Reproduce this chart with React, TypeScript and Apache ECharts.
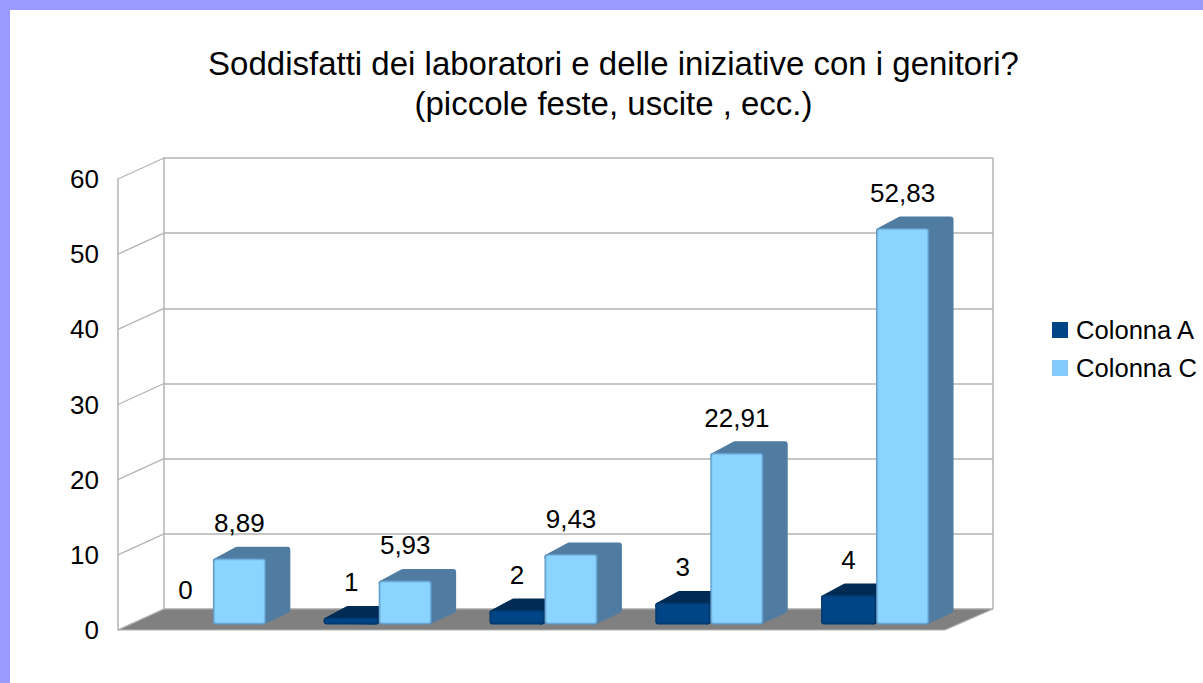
import React, { useEffect, useRef } from "react";
import * as echarts from "echarts";

const titleLines = ["Soddisfatti dei laboratori e delle iniziative con i genitori?", "(piccole feste, uscite , ecc.)"];
const categories = ["1", "2", "3", "4", "5"];
const seriesNames = ["Colonna A", "Colonna C"];
const colonnaA = [0, 1, 2, 3, 4];
const colonnaC = [8.89, 5.93, 9.43, 22.91, 52.83];
const labelsA = ["0", "1", "2", "3", "4"];
const labelsC = ["8,89", "5,93", "9,43", "22,91", "52,83"];
const ticks = [0, 10, 20, 30, 40, 50, 60];

const FONT = "'Liberation Sans', Arial, sans-serif";
const GRID = "#b3b3b3";

const faces = [
  { front: "#8ad4ff", edge: "#5f97c4", mid: "#76b8e6", dark: "#4f7ca0", legend: "#83caff" },
  { front: "#004586", edge: "#00386c", mid: "#003f7a", dark: "#002b54", legend: "#004586" },
];

function barRenderer(values: number[], labels: string[], side: number, look: any) {
  return (params: any, api: any) => {
    const i = params.dataIndex;
    const v = values[i];
    const c = api.coord([i, v]);
    const z = api.coord([i, 0]);
    const band = api.size([1, 0])[0];
    const w = band * (side < 0 ? 0.332 : 0.32);
    const x0 = side < 0 ? c[0] - w : c[0];
    const x1 = x0 + w;
    const top = c[1] - 1;
    const base = z[1] - 1.5;
    const dx = band * 0.147;
    const dy = 11.5;
    const children: any[] = [];
    if (base - top > 1.5) {
      const h = base - top;
      const inset = Math.min(3, h / 2);
      children.push({
        type: "polygon",
        shape: {
          points: [
            [x0 + inset, top + inset],
            [x0 + dx, top - dy + inset],
            [x1 + dx - inset, top - dy + inset],
            [x1 + dx - inset, base - dy - inset],
            [x1 - inset, base - inset],
          ],
        },
        style: { fill: look.dark, stroke: look.dark, lineWidth: inset * 2, lineJoin: "round" },
      });
      [
        [0, look.edge, 3],
        [1, look.mid, 2.5],
        [2, look.front, 1.5],
      ].forEach(([d, fill, r]: any) => {
        if (h - 2 * d > 0.5) {
          children.push({
            type: "rect",
            shape: { x: x0 + d, y: top + d, width: w - 2 * d, height: h - 2 * d, r },
            style: { fill },
          });
        }
      });
    }
    children.push({
      type: "text",
      style: {
        text: labels[i],
        x: (x0 + x1) / 2,
        y: c[1] - 36,
        fill: "#000",
        font: "26px " + FONT,
        align: "center",
        verticalAlign: "middle",
      },
    });
    return { type: "group", children };
  };
}

export default function App() {
  const ref = useRef<HTMLDivElement>(null);
  useEffect(() => {
    const chart = echarts.init(ref.current!, null, { renderer: "svg" });
    const hiddenX = (gridIndex: number) => ({
      type: "category" as const,
      gridIndex,
      data: categories,
      show: false,
    });
    const yAxisBase = { type: "value" as const, min: 0, max: 60, interval: 10 };
    chart.setOption({
      animation: false,
      backgroundColor: "#ffffff",
      color: [faces[1].legend, faces[0].legend],
      title: {
        text: titleLines.join("\n"),
        left: 608.5,
        top: 38,
        textAlign: "center",
        textStyle: { fontFamily: FONT, fontWeight: "normal", fontSize: 33, lineHeight: 40, color: "#000" },
      },
      legend: {
        data: seriesNames,
        orient: "vertical",
        left: 1052,
        top: 317,
        padding: 0,
        itemWidth: 16,
        itemHeight: 16,
        itemGap: 12,
        icon: "rect",
        textStyle: { fontFamily: FONT, fontSize: 25.6, color: "#000", padding: [0, 0, 0, 3] },
      },
      graphic: [
        { type: "rect", shape: { x: 0, y: 0, width: 1203, height: 10 }, style: { fill: "#9999ff" } },
        { type: "rect", shape: { x: 0, y: 0, width: 10, height: 683 }, style: { fill: "#9999ff" } },
      ],
      grid: [
        { left: 164, top: 158, width: 829, height: 451 },
        { left: 118, top: 179, width: 46, height: 451 },
        { left: 130, top: 175, width: 829, height: 451 },
      ],
      xAxis: [hiddenX(0), hiddenX(1), hiddenX(2)],
      yAxis: [
        {
          ...yAxisBase,
          gridIndex: 0,
          axisLabel: { show: false },
          axisTick: { show: false },
          axisLine: { show: true, lineStyle: { color: GRID, width: 1.5 } },
          splitLine: { show: true, lineStyle: { color: GRID, width: 1.5 } },
        },
        {
          ...yAxisBase,
          gridIndex: 1,
          axisLabel: { show: true, margin: 19, fontFamily: FONT, fontSize: 26, color: "#000" },
          axisTick: { show: false },
          axisLine: { show: true, lineStyle: { color: GRID, width: 1.5 } },
          splitLine: { show: false },
        },
        { ...yAxisBase, gridIndex: 2, show: false },
      ],
      series: [
        {
          type: "custom",
          name: "frame",
          xAxisIndex: 0,
          yAxisIndex: 0,
          silent: true,
          z: 1,
          data: ticks,
          renderItem: (params: any, api: any) => {
            const t = ticks[params.dataIndex];
            const p = api.coord([0, t]);
            const left = params.coordSys.x;
            const right = left + params.coordSys.width;
            const children: any[] = [
              {
                type: "line",
                shape: { x1: left - 46, y1: p[1] + 21, x2: left, y2: p[1] },
                style: { stroke: GRID, lineWidth: 1.2 },
              },
            ];
            if (t === 0) {
              children.push({
                type: "polygon",
                shape: {
                  points: [
                    [left - 46, p[1] + 21],
                    [left, p[1]],
                    [right, p[1]],
                    [right - 48, p[1] + 21],
                  ],
                },
                style: { fill: "#808080", stroke: GRID, lineWidth: 1.2 },
              });
            }
            if (t === 60) {
              children.push({
                type: "line",
                shape: { x1: right, y1: p[1], x2: right, y2: p[1] + params.coordSys.height },
                style: { stroke: GRID, lineWidth: 1.5 },
              });
            }
            return { type: "group", children };
          },
        },
        {
          type: "custom",
          name: seriesNames[0],
          xAxisIndex: 2,
          yAxisIndex: 2,
          z: 3,
          itemStyle: { color: faces[1].legend },
          data: colonnaA.map((v, i) => [i, v]),
          encode: { x: 0, y: 1 },
          renderItem: barRenderer(colonnaA, labelsA, -1, faces[1]),
        },
        {
          type: "custom",
          name: seriesNames[1],
          xAxisIndex: 2,
          yAxisIndex: 2,
          z: 4,
          itemStyle: { color: faces[0].legend },
          data: colonnaC.map((v, i) => [i, v]),
          encode: { x: 0, y: 1 },
          renderItem: barRenderer(colonnaC, labelsC, 1, faces[0]),
        },
      ],
    });
    return () => chart.dispose();
  }, []);
  return <div ref={ref} style={{ position: "fixed", left: 0, top: 0, width: 1203, height: 683 }} />;
}
